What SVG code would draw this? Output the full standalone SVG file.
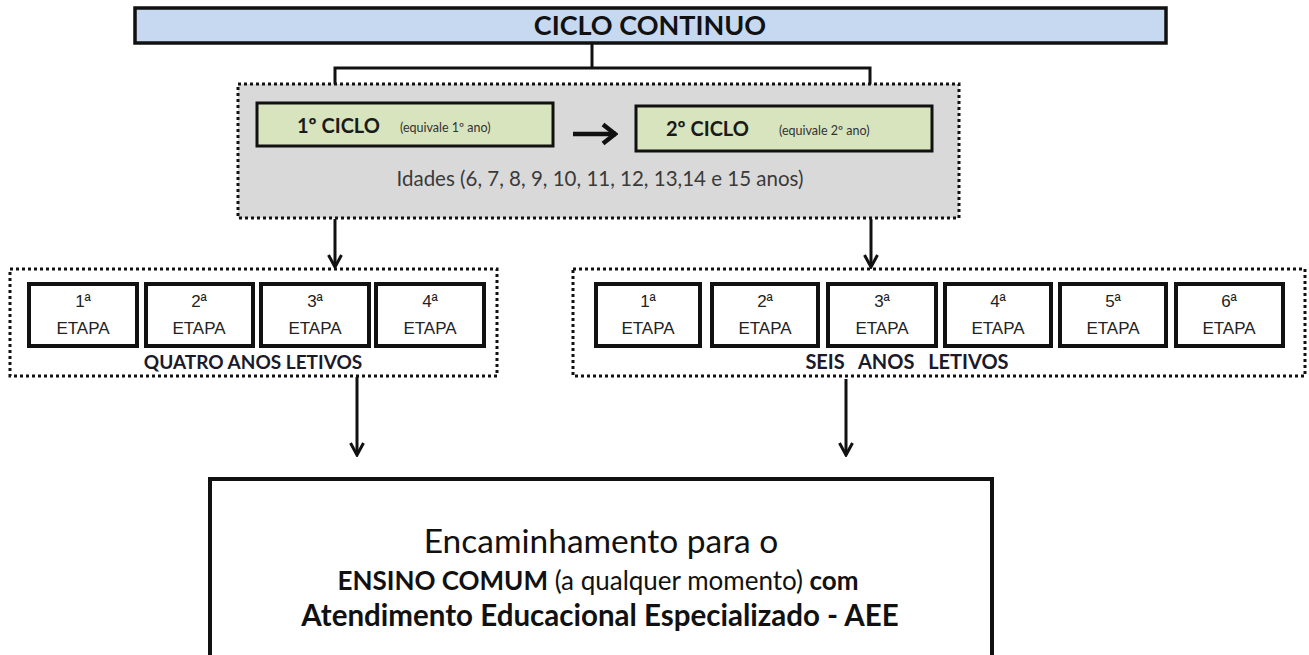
<svg xmlns="http://www.w3.org/2000/svg" width="1309" height="655" viewBox="0 0 1309 655">
<defs>
<style>
.title{font-family:Lato,"Liberation Sans",sans-serif;font-weight:bold;font-size:27px;fill:#111;text-anchor:middle}
.ciclo{font-family:Lato,"Liberation Sans",sans-serif;font-weight:bold;font-size:20px;fill:#1a1a1a}
.small{font-family:Lato,"Liberation Sans",sans-serif;font-size:12.5px;fill:#333}
.idades{font-family:Lato,"Liberation Sans",sans-serif;font-size:20.5px;fill:#3a3a3a;text-anchor:middle}
.etapa{font-family:"Liberation Sans",Arial,sans-serif;font-size:17px;fill:#222;text-anchor:middle}
.lbl{font-family:Lato,"Liberation Sans",sans-serif;font-weight:bold;font-size:19px;fill:#1a1a2a;text-anchor:middle}
.big{font-family:Lato,"Liberation Sans",sans-serif;font-size:33.5px;fill:#111;text-anchor:middle}
.mid{font-family:Lato,"Liberation Sans",sans-serif;font-size:26px;fill:#111;text-anchor:middle}
.b{font-weight:bold}
.dotted{fill:none;stroke:#111;stroke-width:3;stroke-dasharray:3 3}
.stage{fill:#fff;stroke:#111;stroke-width:4}
.conn{fill:none;stroke:#111;stroke-width:3}
</style>
<marker id="head" viewBox="0 0 16 16" refX="14" refY="8" markerWidth="16" markerHeight="16" markerUnits="userSpaceOnUse" orient="auto">
<path d="M2,1.5 L14,8 L2,14.5" fill="none" stroke="#111" stroke-width="3"/>
</marker>
<marker id="headBig" viewBox="0 0 18 24" refX="16" refY="12" markerWidth="18" markerHeight="24" markerUnits="userSpaceOnUse" orient="auto">
<path d="M3,2.5 L15,12 L3,21.5" fill="none" stroke="#111" stroke-width="4.5"/>
</marker>
</defs>
<rect width="1309" height="655" fill="#fff"/>

<g id="ciclo-continuo">
<rect x="135" y="8" width="1031" height="35" fill="#c6d9f1" stroke="#111" stroke-width="3.5"/>
<text class="title" x="650" y="35">CICLO CONTINUO</text>
</g>

<g id="ciclos-group">
<rect x="238" y="84" width="721" height="134" fill="#d9d9d9"/>
<rect class="dotted" x="238" y="84" width="721" height="134"/>
<text class="idades" x="600" y="186">Idades (6, 7, 8, 9, 10, 11, 12, 13,14 e 15 anos)</text>
</g>

<g id="ciclo1">
<rect x="257" y="103" width="296" height="43" fill="#d7e4bd" stroke="#111" stroke-width="3"/>
<text class="ciclo" x="297" y="133">1º CICLO</text>
<text class="small" x="400" y="132">(equivale  1º ano)</text>
</g>

<g id="ciclo2">
<rect x="636" y="106" width="296" height="45" fill="#d7e4bd" stroke="#111" stroke-width="3"/>
<text class="ciclo" x="666" y="136">2º CICLO</text>
<text class="small" x="779" y="135">(equivale  2º ano)</text>
</g>

<g id="quatro-anos">
<rect class="dotted" x="10" y="269" width="487" height="107"/>
<text class="lbl" x="253" y="369">QUATRO ANOS LETIVOS</text>
</g>
<g id="q-etapa1"><rect class="stage" x="29" y="284" width="108" height="62"/><text class="etapa" x="83" y="307">1ª</text><text class="etapa" x="83" y="334">ETAPA</text></g>
<g id="q-etapa2"><rect class="stage" x="146" y="284" width="107" height="62"/><text class="etapa" x="199" y="307">2ª</text><text class="etapa" x="199" y="334">ETAPA</text></g>
<g id="q-etapa3"><rect class="stage" x="261" y="284" width="108" height="62"/><text class="etapa" x="315" y="307">3ª</text><text class="etapa" x="315" y="334">ETAPA</text></g>
<g id="q-etapa4"><rect class="stage" x="376" y="284" width="108" height="62"/><text class="etapa" x="430" y="307">4ª</text><text class="etapa" x="430" y="334">ETAPA</text></g>

<g id="seis-anos">
<rect class="dotted" x="573" y="269" width="732" height="107"/>
<text class="lbl" x="907" y="369" style="word-spacing:9px;font-size:20px">SEIS ANOS LETIVOS</text>
</g>
<g id="s-etapa1"><rect class="stage" x="596" y="284" width="104" height="62"/><text class="etapa" x="648" y="307">1ª</text><text class="etapa" x="648" y="334">ETAPA</text></g>
<g id="s-etapa2"><rect class="stage" x="712" y="284" width="106" height="62"/><text class="etapa" x="765" y="307">2ª</text><text class="etapa" x="765" y="334">ETAPA</text></g>
<g id="s-etapa3"><rect class="stage" x="828" y="284" width="108" height="62"/><text class="etapa" x="882" y="307">3ª</text><text class="etapa" x="882" y="334">ETAPA</text></g>
<g id="s-etapa4"><rect class="stage" x="945" y="284" width="106" height="62"/><text class="etapa" x="998" y="307">4ª</text><text class="etapa" x="998" y="334">ETAPA</text></g>
<g id="s-etapa5"><rect class="stage" x="1060" y="284" width="106" height="62"/><text class="etapa" x="1113" y="307">5ª</text><text class="etapa" x="1113" y="334">ETAPA</text></g>
<g id="s-etapa6"><rect class="stage" x="1176" y="284" width="107" height="62"/><text class="etapa" x="1229" y="307">6ª</text><text class="etapa" x="1229" y="334">ETAPA</text></g>

<g id="encaminhamento">
<rect x="210" y="479" width="782" height="190" fill="#fff" stroke="#111" stroke-width="4"/>
<text class="big" x="601" y="553">Encaminhamento para o</text>
<text class="mid" x="598" y="590"><tspan class="b">ENSINO COMUM</tspan> (a qualquer momento) <tspan class="b">com</tspan></text>
<text class="mid b" x="600" y="626" style="font-size:29.5px">Atendimento Educacional Especializado - AEE</text>
</g>

<g id="connectors">
<polyline class="conn" points="592,43 592,68"/>
<polyline class="conn" points="335,84 335,68 870,68 870,84"/>
<line class="conn" x1="335" y1="219" x2="335" y2="267" marker-end="url(#head)"/>
<line class="conn" x1="871" y1="219" x2="871" y2="267" marker-end="url(#head)"/>
<line class="conn" x1="357" y1="377" x2="357" y2="455" marker-end="url(#head)"/>
<line class="conn" x1="846" y1="379" x2="846" y2="455" marker-end="url(#head)"/>
<line x1="573" y1="134" x2="616" y2="134" stroke="#111" stroke-width="4.5" marker-end="url(#headBig)"/>
</g>
</svg>
